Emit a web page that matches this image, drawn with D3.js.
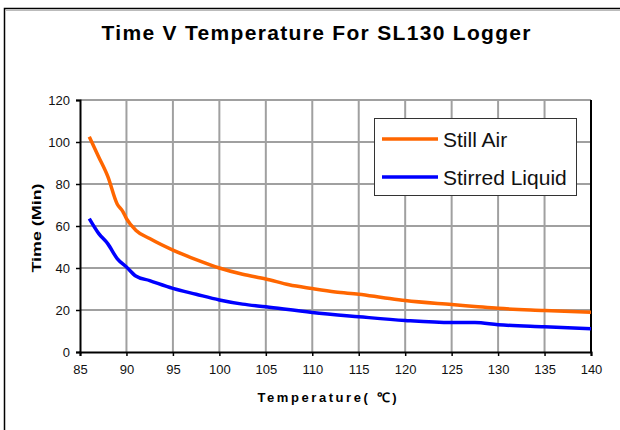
<!DOCTYPE html>
<html>
	<head>
		<meta charset="utf-8">
		<title>Time V Temperature For SL130 Logger</title>
		<script src="https://d3js.org/d3.v7.min.js"></script>
		<style>
			body { margin: 0; background: white; }
			svg { font-family: 'Liberation Sans', Arial, sans-serif; }
		</style>
	</head>
	<body>
		<div id='plot'></div>
		<script>
			// data
			var airTemp = [86, 87, 88, 89, 89.6, 90, 91, 92.5, 95, 97.5, 100, 102.5, 105, 107.5, 110, 112.5, 115, 117.5, 120, 125, 127.5, 130, 135, 140]
			var airTime = [102.5, 93, 83.5, 70.5, 67, 63.5, 58, 54, 48.5, 44, 40, 37, 34.8, 32, 30.2, 28.6, 27.5, 26, 24.5, 22.6, 21.7, 20.8, 19.8, 18.9]
			var liqTemp = [86, 87, 88, 89, 90, 91, 92.5, 95, 97.5, 100, 102.5, 105, 110, 115, 120, 125, 127.5, 130, 135, 140]
			var liqTime = [63.5, 56.5, 51.5, 44.5, 40.5, 36.2, 34, 30.3, 27.5, 24.8, 22.8, 21.5, 18.8, 16.8, 15, 14, 14, 13, 12, 11.1]
			var xTicks = [85, 90, 95, 100, 105, 110, 115, 120, 125, 130, 135, 140]
			var yTicks = [0, 20, 40, 60, 80, 100, 120]
			var seriesNames = ['Still Air', 'Stirred Liquid']
			var seriesColors = ['#FF6600', '#0000FF']

			var W = 620, H = 430
			var margin = {top:100, bottom:78, left:80, right:29}

			var svg = d3.select('#plot').append('svg')
							.attr('width', W)
							.attr('height', H)

			var x = d3.scaleLinear().domain([85, 140]).range([margin.left, W - margin.right])
			var y = d3.scaleLinear().domain([0, 120]).range([H - margin.bottom, margin.top])

			// outer frame (only top/left visible)
			svg.append('rect')
				.attr('x', 4.5).attr('y', 8.5)
				.attr('width', W + 10).attr('height', H + 10)
				.attr('fill', 'white').attr('stroke', 'black').attr('stroke-width', 1.5)
			svg.append('line')
				.attr('x1', 6).attr('x2', W).attr('y1', 10.5).attr('y2', 10.5)
				.attr('stroke', '#bbb').attr('stroke-width', 1)

			//TITLE
			svg.append('text')
				.attr('x', 316).attr('y', 40)
				.attr('text-anchor', 'middle')
				.attr('font-size', 21).attr('font-weight', 'bold')
				.attr('textLength', 429).attr('lengthAdjust', 'spacing')
				.text('Time V Temperature For SL130 Logger')

			//GRID
			svg.append('g').selectAll('line')
				.data(xTicks.slice(1, -1))
				.enter().append('line')
					.attr('x1', x).attr('x2', x)
					.attr('y1', y(0)).attr('y2', y(120))
					.attr('stroke', '#a0a0a0').attr('stroke-width', 2)
			svg.append('g').selectAll('line')
				.data(yTicks.slice(1))
				.enter().append('line')
					.attr('x1', x(85)).attr('x2', x(140))
					.attr('y1', y).attr('y2', y)
					.attr('stroke', '#a0a0a0').attr('stroke-width', 2)

			//AXES
			var xAxis = svg.append('g')
				.attr('transform', 'translate(0,' + y(0) + ')')
				.call(d3.axisBottom(x).tickValues(xTicks).tickSize(4).tickPadding(9))
			var yAxis = svg.append('g')
				.attr('transform', 'translate(' + x(85) + ',0)')
				.call(d3.axisLeft(y).tickValues(yTicks).tickSize(4).tickPadding(6))
			svg.selectAll('.domain').attr('stroke-width', 2).attr('stroke', 'black')
			svg.selectAll('.tick line').attr('stroke-width', 1.5)
			svg.selectAll('.tick text').attr('font-size', 13).attr('fill', '#111')
				.attr('font-family', "'Liberation Sans', Arial, sans-serif")
			// right border of plot
			svg.append('line')
				.attr('x1', x(140)).attr('x2', x(140))
				.attr('y1', y(0)).attr('y2', y(120))
				.attr('stroke', 'black').attr('stroke-width', 2)

			//AXIS TITLES
			svg.append('text')
				.attr('x', 327).attr('y', 402)
				.attr('text-anchor', 'middle')
				.attr('font-size', 13).attr('font-weight', 'bold')
				.attr('textLength', 139).attr('lengthAdjust', 'spacing')
				.text('Temperature( \u2103)')
			svg.append('text')
				.attr('transform', 'translate(41,228) rotate(-90)')
				.attr('text-anchor', 'middle')
				.attr('font-size', 12).attr('font-weight', 'bold')
				.attr('textLength', 89).attr('lengthAdjust', 'spacingAndGlyphs')
				.text('Time (Min)')

			//LINES
			var line = d3.line()
				.x(function(d){return x(d[0])})
				.y(function(d){return y(d[1])})
				.curve(d3.curveMonotoneX)
			var series = [d3.zip(airTemp, airTime), d3.zip(liqTemp, liqTime)]
			svg.selectAll('.serie')
				.data(series)
				.enter().append('path')
					.attr('class', 'serie')
					.attr('d', line)
					.attr('fill', 'none')
					.attr('stroke', function(d, i){return seriesColors[i]})
					.attr('stroke-width', 3.5)
					.attr('stroke-linejoin', 'round')

			//LEGEND
			svg.append('rect')
				.attr('x', 374.5).attr('y', 118.5)
				.attr('width', 202).attr('height', 77)
				.attr('fill', 'white').attr('stroke', '#333').attr('stroke-width', 1)
			var legend = svg.selectAll('.legend')
				.data(seriesNames)
				.enter().append('g')
					.attr('class', 'legend')
					.attr('transform', function(d, i){return 'translate(0,' + (139 + i * 38) + ')'})
			legend.append('line')
				.attr('x1', 382).attr('x2', 438)
				.attr('stroke', function(d, i){return seriesColors[i]})
				.attr('stroke-width', 3.5)
			legend.append('text')
				.attr('x', 443).attr('y', 7.5)
				.attr('font-size', 21)
				.attr('fill', '#111')
				.text(function(d){return d})
		</script>
	</body>
</html>
